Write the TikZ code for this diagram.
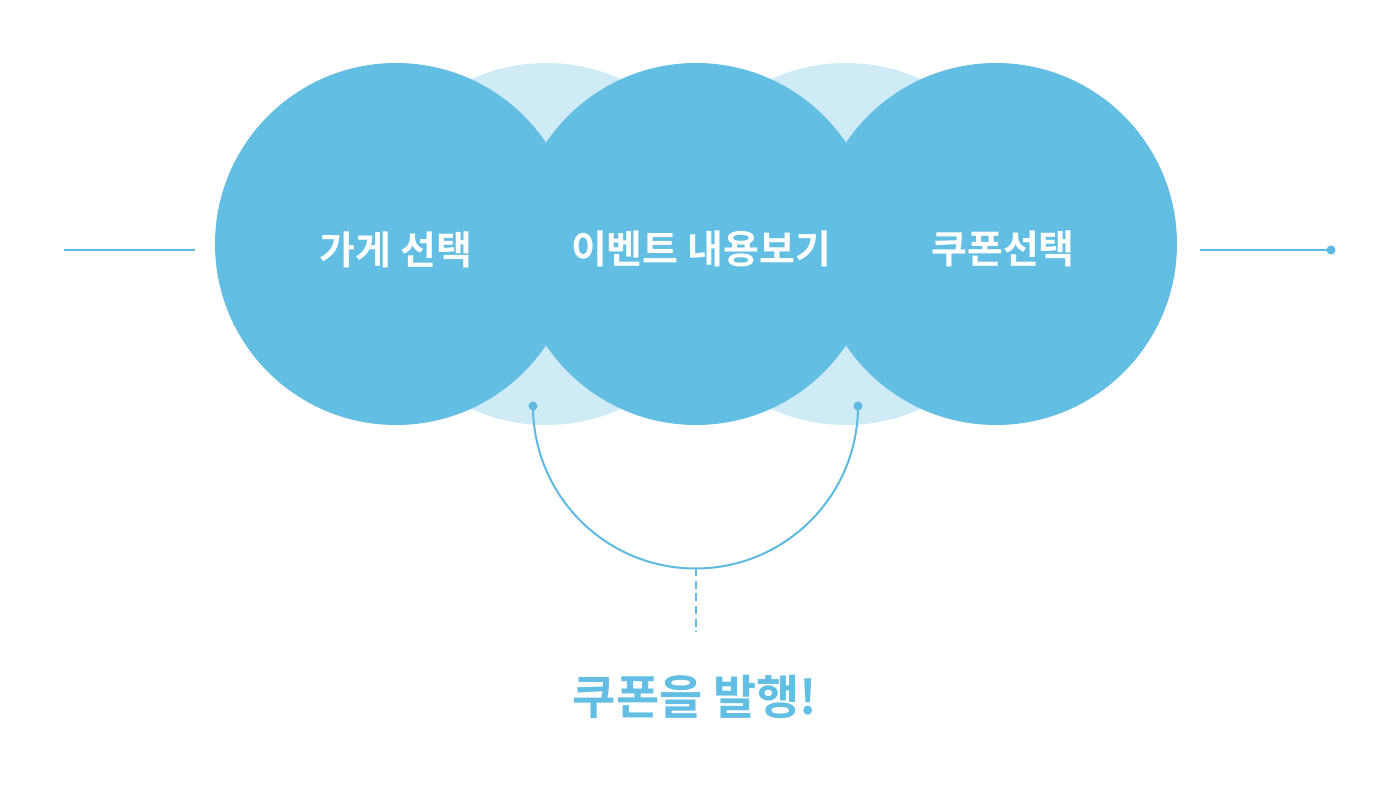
\documentclass[tikz,border=0pt]{standalone}
\usepackage{fontspec}
\newfontfamily\krfont{Noto Sans CJK KR}[BoldFont={Noto Sans CJK KR Bold}]
\usepackage{xcolor}
\usepackage{tikz}
\usetikzlibrary{positioning}

\definecolor{bubble}{HTML}{62BEE3}
\definecolor{shade}{HTML}{CFEBF6}
\definecolor{wire}{HTML}{5DBAE0}

\begin{document}
\begin{tikzpicture}[x=1pt, y=1pt,
    bigdisc/.style={circle, minimum size=362pt, inner sep=0pt},
    steplabel/.style={text=white, font=\krfont\bfseries\fontsize{39}{43}\selectfont},
    pin/.style={circle, fill=wire, minimum size=9pt, inner sep=0pt},
    wireline/.style={draw=wire, line width=2pt}
    ]
    			\useasboundingbox (0,0) rectangle (1400,801);
    			
    			% faint circles behind
    			\foreach \x/\name in {546/s1, 846/s2}{
    				\node[bigdisc, fill=shade] (\name) at (\x,557) {};
    			}
    			% main circles
    			\foreach \x/\name in {396/c1, 696/c2, 996/c3}{
    				\node[bigdisc, fill=bubble] (\name) at (\x,557) {};
    			}
    			
    			\node[steplabel] (t1) at (396,551) {가게 선택};
    			\node[steplabel] (t2) at (701,552) {이벤트 내용보기};
    			\node[steplabel] (t3) at (1003,552) {쿠폰선택};
    			
    			% side lines
    			\coordinate (la) at (64,551);
    			\coordinate (lb) at (195,551);
    			\draw[wireline, line width=1.4pt] (la) -- (lb);
    			\coordinate (ra) at (1200,551);
    			\node[pin] (rb) at (1331,551) {};
    			\draw[wireline, line width=1.4pt] (ra) -- (rb.center);
    			
    			% joining arc
    			\node[pin] (dl) at (533,395) {};
    			\node[pin] (dr) at (858,395) {};
    			\draw[wireline] (dl.center) arc[start angle=180, end angle=360, radius=162.5];
    			\coordinate (low) at (695.5,232.5);
    			\coordinate (tail) at (695.5,169);
    			\draw[wireline, dash pattern=on 8pt off 4.5pt] (low) -- (tail);
    			
    			\node[font=\krfont\bfseries\fontsize{47}{51}\selectfont, text=bubble] (result) at (695,104) {쿠폰을 발행!};
    		\end{tikzpicture}
\end{document}
